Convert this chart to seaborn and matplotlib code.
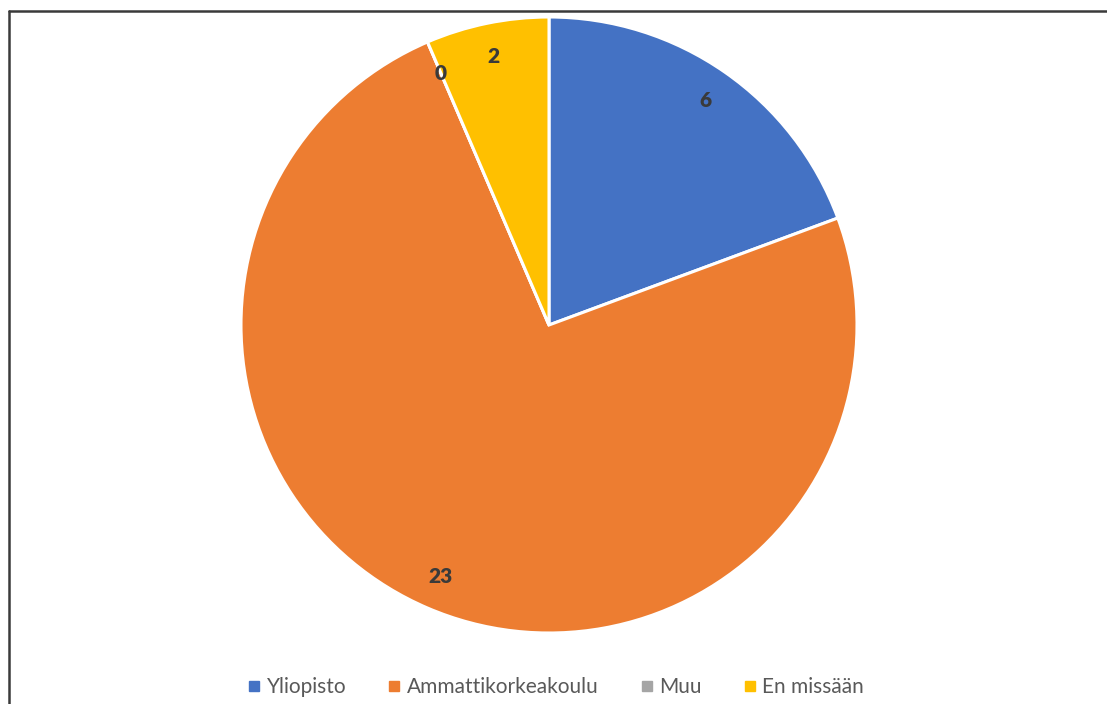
import matplotlib
matplotlib.use("Agg")
import matplotlib.pyplot as plt
from matplotlib.lines import Line2D
import seaborn as sns

categories = ["Yliopisto", "Ammattikorkeakoulu", "Muu", "En missään"]
counts = [6, 23, 0, 2]
colors = ["#4472C4", "#ED7D31", "#A5A5A5", "#FFC000"]

sns.set_theme(style="white")
plt.rcParams["font.family"] = ["Lato", "DejaVu Sans"]

W, H = 1107, 704
fig = plt.figure(figsize=(W / 100, H / 100), dpi=100)
fig.patch.set_facecolor("white")

# pie axes: centre (549, 325) px, radius 308 px
cx, cy, r = 549, 325, 308
ax = fig.add_axes([(cx - r) / W, (H - cy - r) / H, 2 * r / W, 2 * r / H])
wedges, texts = ax.pie(
    counts,
    colors=colors,
    startangle=90,
    counterclock=False,
    labels=[str(v) for v in counts],
    labeldistance=0.89,
    wedgeprops=dict(edgecolor="white", linewidth=2.2),
    textprops=dict(fontsize=15, fontweight="heavy", color="#3a3a3a"),
)
for t in texts:
    t.set_ha("center")
    t.set_va("center")
ax.set_xlim(-1.0, 1.0)
ax.set_ylim(-1.0, 1.0)
ax.set_aspect("equal")
ax.axis("off")

handles = [Line2D([], [], marker="s", linestyle="none", markersize=7,
                  markerfacecolor=c, markeredgecolor=c) for c in colors]
fig.legend(handles, categories, loc="center", ncol=4,
           bbox_to_anchor=(556 / W, 1 - 687 / H), frameon=False,
           fontsize=15, labelcolor="#595959", handlelength=0.6,
           handletextpad=0.3, columnspacing=2.0)

# frame lines along the top and left edges
fig.add_artist(Line2D([9 / W, 1.0], [1 - 11 / H, 1 - 11 / H], color="#3a3a3a",
                      linewidth=1.8, transform=fig.transFigure))
fig.add_artist(Line2D([9 / W, 9 / W], [0.0, 1 - 11 / H], color="#3a3a3a",
                      linewidth=1.8, transform=fig.transFigure))

fig.savefig("out.png", dpi=100, facecolor="white")
